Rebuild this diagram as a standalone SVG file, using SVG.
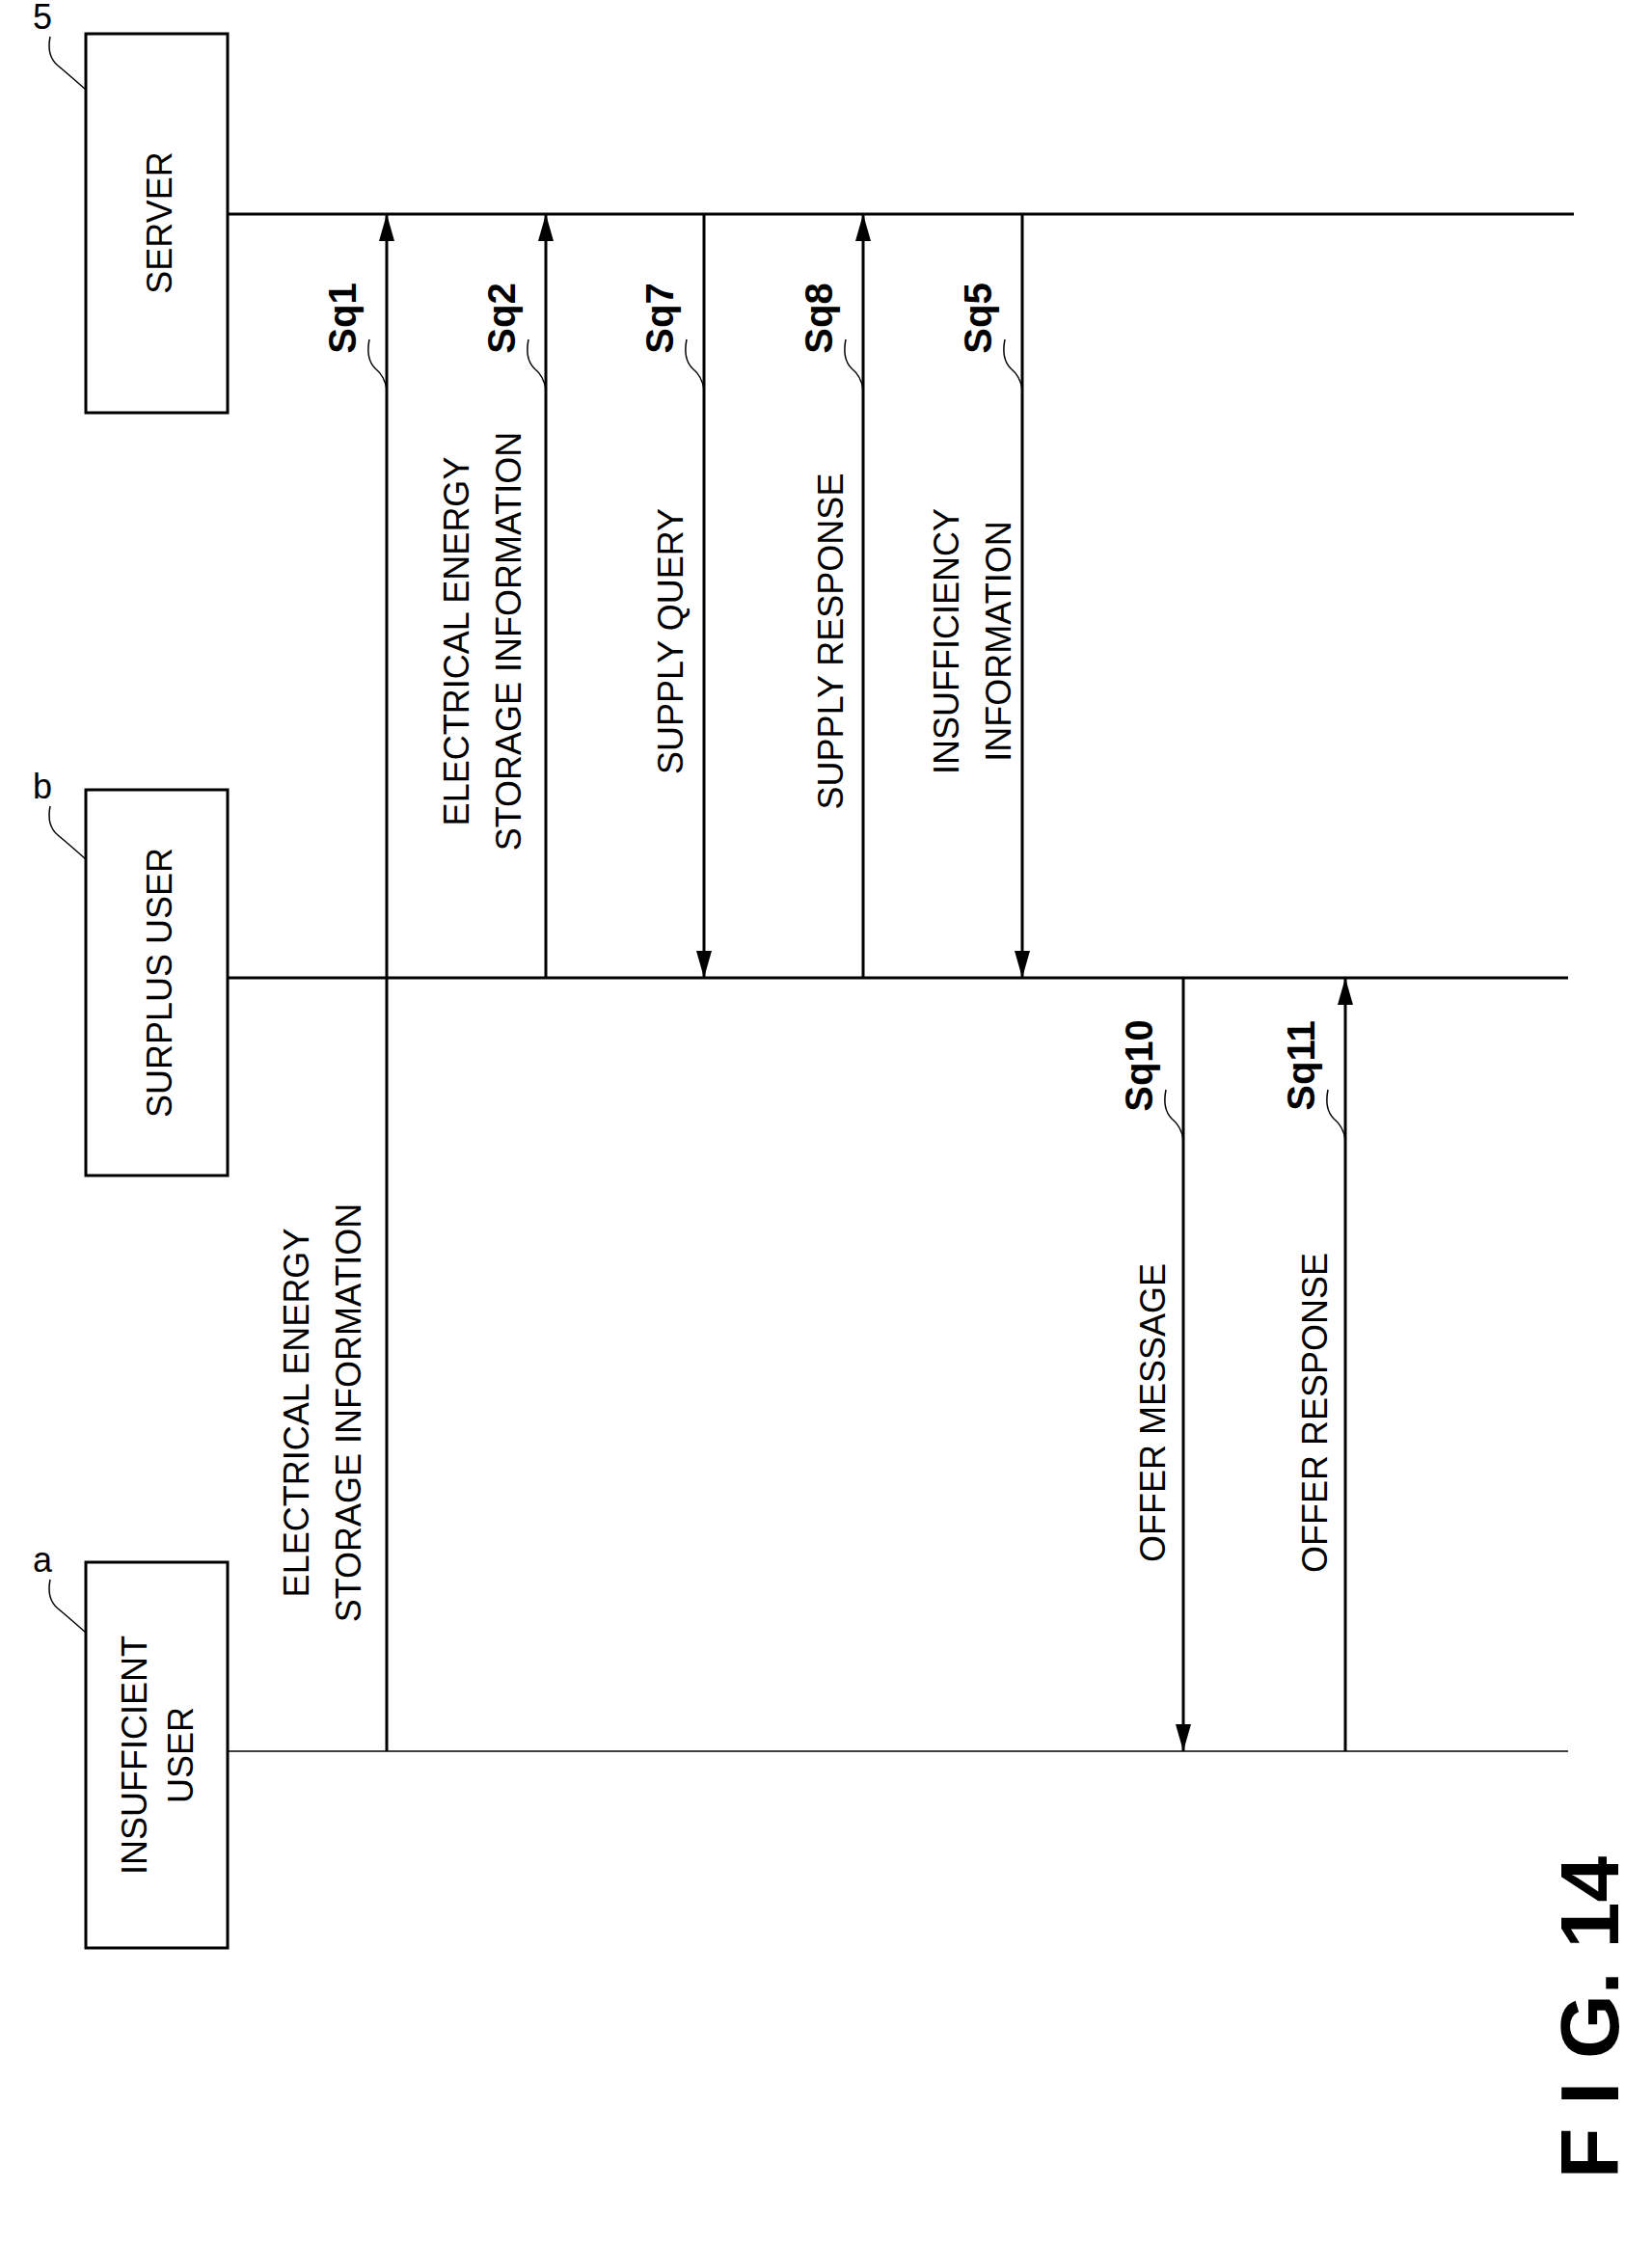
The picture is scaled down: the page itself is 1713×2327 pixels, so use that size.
<svg xmlns="http://www.w3.org/2000/svg" width="1713" height="2327" viewBox="0 0 1713 2327">
<style>
.box{fill:#fff;stroke:#000;stroke-width:3}
.ln{stroke:#000;stroke-width:3;fill:none}
.ld{stroke:#000;stroke-width:1.5;fill:none}
.t{font-family:"Liberation Sans",Arial,sans-serif;font-size:36px;text-anchor:middle}
.s{font-family:"Liberation Sans",Arial,sans-serif;font-size:40px;font-weight:bold;text-anchor:middle}
</style>
<defs>
<marker id="ah2" markerWidth="28" markerHeight="16" refX="28" refY="8" orient="auto" markerUnits="userSpaceOnUse"><path d="M0,0 L28,8 L0,16 z" fill="#000"/></marker>
</defs>
<g id="server">
<rect class="box" x="89" y="35" width="147" height="393"/>
<text class="t" transform="translate(178,231) rotate(-90)">SERVER</text>
<text class="t" x="44" y="30">5</text>
<path class="ld" d="M52,38 q-4,20 8,30 q12,10 29,25"/>
</g>
<g id="surplus">
<rect class="box" x="89" y="819" width="147" height="400"/>
<text class="t" transform="translate(178,1019) rotate(-90)">SURPLUS USER</text>
<text class="t" x="44" y="828">b</text>
<path class="ld" d="M52,836 q-4,20 8,30 q12,10 29,25"/>
</g>
<g id="insufficient">
<rect class="box" x="89" y="1620" width="147" height="400"/>
<text class="t" transform="translate(152,1820) rotate(-90)">INSUFFICIENT</text>
<text class="t" transform="translate(200,1820) rotate(-90)">USER</text>
<text class="t" x="44" y="1630">a</text>
<path class="ld" d="M52,1638 q-4,20 8,30 q12,10 29,25"/>
</g>
<g id="connectors">
<line class="ln" x1="236" y1="222" x2="1632" y2="222"/>
<line class="ln" x1="236" y1="1014" x2="1626" y2="1014"/>
<line class="ld" x1="236" y1="1816" x2="1626" y2="1816"/>
<line class="ln" x1="401" y1="1816" x2="401" y2="222" marker-end="url(#ah2)"/>
<line class="ln" x1="566" y1="1014" x2="566" y2="222" marker-end="url(#ah2)"/>
<line class="ln" x1="730" y1="222" x2="730" y2="1014" marker-end="url(#ah2)"/>
<line class="ln" x1="895" y1="1014" x2="895" y2="222" marker-end="url(#ah2)"/>
<line class="ln" x1="1060" y1="222" x2="1060" y2="1014" marker-end="url(#ah2)"/>
<line class="ln" x1="1227" y1="1014" x2="1227" y2="1816" marker-end="url(#ah2)"/>
<line class="ln" x1="1395" y1="1816" x2="1395" y2="1014" marker-end="url(#ah2)"/>
<path class="ld" d="M383,352 q-4,20 6,30 q10,8 12,22"/>
<path class="ld" d="M548,352 q-4,20 6,30 q10,8 12,22"/>
<path class="ld" d="M712,352 q-4,20 6,30 q10,8 12,22"/>
<path class="ld" d="M877,352 q-4,20 6,30 q10,8 12,22"/>
<path class="ld" d="M1042,352 q-4,20 6,30 q10,8 12,22"/>
<path class="ld" d="M1209,1130 q-4,20 6,30 q10,8 12,22"/>
<path class="ld" d="M1377,1130 q-4,20 6,30 q10,8 12,22"/>
</g>
<g id="labels">
<text class="s" transform="translate(369,330) rotate(-90)">Sq1</text>
<text class="s" transform="translate(534,330) rotate(-90)">Sq2</text>
<text class="s" transform="translate(698,330) rotate(-90)">Sq7</text>
<text class="s" transform="translate(863,330) rotate(-90)">Sq8</text>
<text class="s" transform="translate(1028,330) rotate(-90)">Sq5</text>
<text class="s" transform="translate(1195,1105) rotate(-90)">Sq10</text>
<text class="s" transform="translate(1363,1105) rotate(-90)">Sq11</text>
<text class="t" transform="translate(320,1465) rotate(-90)">ELECTRICAL ENERGY</text>
<text class="t" transform="translate(374,1465) rotate(-90)">STORAGE INFORMATION</text>
<text class="t" transform="translate(486,665) rotate(-90)">ELECTRICAL ENERGY</text>
<text class="t" transform="translate(540,665) rotate(-90)">STORAGE INFORMATION</text>
<text class="t" transform="translate(708,665) rotate(-90)">SUPPLY QUERY</text>
<text class="t" transform="translate(874,665) rotate(-90)">SUPPLY RESPONSE</text>
<text class="t" transform="translate(994,665) rotate(-90)">INSUFFICIENCY</text>
<text class="t" transform="translate(1048,665) rotate(-90)">INFORMATION</text>
<text class="t" transform="translate(1208,1465) rotate(-90)">OFFER MESSAGE</text>
<text class="t" transform="translate(1376,1465) rotate(-90)">OFFER RESPONSE</text>
<text font-family="Liberation Sans,Arial,sans-serif" font-size="86" font-weight="bold" text-anchor="middle" transform="translate(1678,2092) rotate(-90)">F I G. 14</text>
</g>
</svg>
